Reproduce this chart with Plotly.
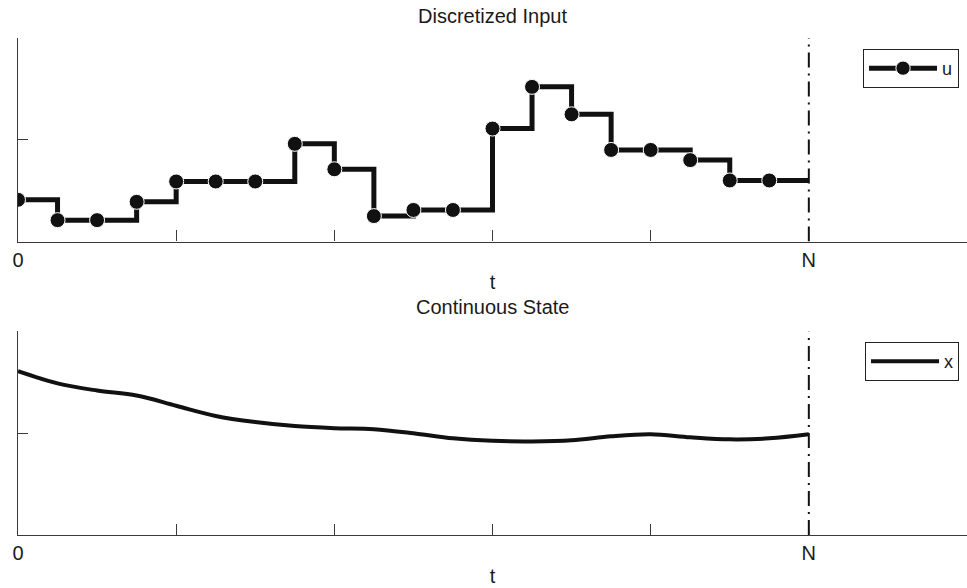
import plotly.graph_objects as go
from plotly.subplots import make_subplots

# ---------------- data ----------------
N = 20
t_steps = list(range(N))                      # sample instants 0..N-1
u_values = [0.41, 0.21, 0.21, 0.39, 0.59, 0.59, 0.59, 0.96, 0.71, 0.25,
            0.31, 0.31, 1.11, 1.52, 1.25, 0.90, 0.90, 0.80, 0.60, 0.60]
t_state = list(range(N + 1))                  # 0..N
x_values = [1.61, 1.49, 1.42, 1.37, 1.27, 1.17, 1.11, 1.07, 1.05, 1.04,
            1.00, 0.95, 0.925, 0.92, 0.93, 0.97, 0.99, 0.96, 0.94, 0.95, 0.99]
x_tick_vals = [0, 4, 8, 12, 16, 20]
x_tick_text = ["0", "", "", "", "", "N"]
y_tick_vals = [0, 1, 2]
titles = ["Discretized Input", "Continuous State"]

FONT = "Liberation Sans, Arial, Helvetica, sans-serif"
TXT = "#1a1a1a"
AX = "#3a3a3a"

fig = make_subplots(rows=2, cols=1, vertical_spacing=0.181)

# step input u (zero-order hold), last sample held until N
fig.add_trace(go.Scatter(
    x=t_steps + [N], y=u_values + [u_values[-1]],
    mode="lines+markers", line=dict(shape="hv", color="#111111", width=5),
    marker=dict(size=[15] * len(t_steps) + [0], color="#111111", opacity=1),
    name="u", legend="legend"), row=1, col=1)

# continuous state x
fig.add_trace(go.Scatter(
    x=t_state, y=x_values, mode="lines",
    line=dict(shape="spline", smoothing=1.0, color="#111111", width=4),
    name="x", legend="legend2"), row=2, col=1)

for r in (1, 2):
    fig.update_xaxes(range=[0, 24], tickvals=x_tick_vals, ticktext=x_tick_text,
                     ticks="inside", ticklen=11, tickcolor=AX, tickwidth=1,
                     showline=True, linecolor=AX, linewidth=1.2, mirror=False,
                     showgrid=False, zeroline=False, ticklabelstandoff=0,
                     tickfont=dict(family=FONT, size=20, color=TXT),
                     title=dict(text="t", standoff=5,
                                font=dict(family=FONT, size=20, color=TXT)),
                     row=r, col=1)
    fig.update_yaxes(range=[0, 2], tickvals=y_tick_vals, showticklabels=False,
                     ticks="inside", ticklen=10, tickcolor=AX, tickwidth=1,
                     showline=True, linecolor=AX, linewidth=1.2, mirror=False,
                     showgrid=False, zeroline=False, row=r, col=1)
    fig.add_shape(type="line", x0=N, x1=N, y0=0, y1=2,
                  xref="x" if r == 1 else "x2", yref="y" if r == 1 else "y2",
                  line=dict(color="#111111", width=2, dash="15px,6px,2px,6px"))

fig.add_annotation(text=titles[0], x=0.5, y=1.044, xref="paper", yref="paper",
                   showarrow=False, xanchor="center", yanchor="middle",
                   font=dict(family=FONT, size=20, color=TXT))
fig.add_annotation(text=titles[1], x=0.5, y=0.4588, xref="paper", yref="paper",
                   showarrow=False, xanchor="center", yanchor="middle",
                   font=dict(family=FONT, size=20, color=TXT))

legend_style = dict(xanchor="right", yanchor="top", bgcolor="white",
                    bordercolor="#222222", borderwidth=1, itemwidth=68,
                    font=dict(family=FONT, size=18, color=TXT))
fig.update_layout(
    width=967, height=588,
    margin=dict(l=18, r=0, t=38, b=53),
    plot_bgcolor="white", paper_bgcolor="white",
    showlegend=True,
    legend=dict(x=0.9916, y=0.978, **legend_style),
    legend2=dict(x=0.9916, y=0.388, **legend_style),
)

fig.write_html("out.html")
